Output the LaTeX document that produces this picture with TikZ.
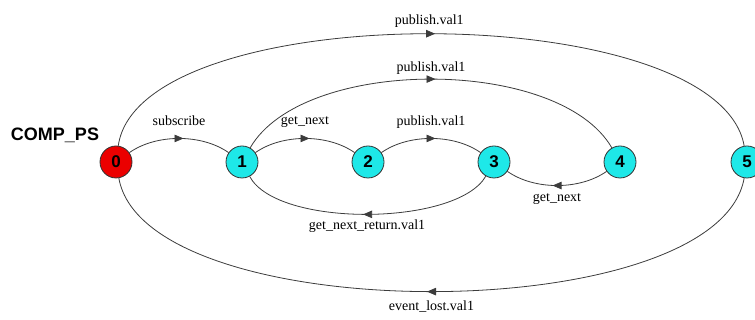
\documentclass[tikz,border=0pt]{standalone}
\usepackage{fontspec}
\setmainfont{Liberation Serif}
\setsansfont{Liberation Sans}
\usetikzlibrary{arrows.meta, decorations.markings}

\definecolor{statered}{RGB}{235,0,0}
\definecolor{statecyan}{RGB}{30,232,232}
\definecolor{edgegray}{RGB}{60,60,60}

\begin{document}
\begin{tikzpicture}[x=1pt, y=1pt,
    state/.style={circle, draw=black!80, line width=0.8pt, fill=statecyan,
        minimum size=32pt, inner sep=0pt, font=\sffamily\bfseries\fontsize{17}{17}\selectfont},
    startstate/.style={state, fill=statered},
    trans/.style={draw=edgegray, line width=0.8pt,
        postaction={decorate, decoration={markings,
            mark=at position 0.5 with {\arrow[xshift=4.5pt]{Triangle[length=9pt, width=7.5pt]}}}}},
    lbl/.style={font=\fontsize{14}{14}\selectfont, inner sep=0pt}]
    \useasboundingbox (0,0) rectangle (755,320);

    \node[font=\sffamily\bfseries\fontsize{18}{18}\selectfont] (title) at (55,185) {COMP\_PS};

    % states
    \node[startstate] (s0) at (116,158) {0};
    \node[state] (s1) at (242,158) {1};
    \node[state] (s2) at (368,158) {2};
    \node[state] (s3) at (494,158) {3};
    \node[state] (s4) at (620,158) {4};
    \node[state] (s5) at (747,158) {5};

    % transitions above
    \draw[trans] (s0) to[out=35, in=145, looseness=0.85]
        node[lbl, yshift=18pt] (l01) {subscribe} (s1);
    \draw[trans] (s1) to[out=35, in=145, looseness=0.85]
        node[lbl, yshift=16pt] (l12) {get\_next} (s2);
    \draw[trans] (s2) to[out=35, in=145, looseness=0.85]
        node[lbl, yshift=16pt] (l23) {publish.val1} (s3);
    \draw[trans] (s1) to[out=60, in=120, looseness=0.75]
        node[lbl, yshift=11pt] (l14) {publish.val1} (s4);
    \draw[trans] (s0) to[out=82, in=100, looseness=0.62]
        node[lbl, yshift=13pt] (l05) {publish.val1} (s5);

    % transitions below
    \draw[trans] (s4) to[out=-145, in=-35, looseness=0.85]
        node[lbl, yshift=-14pt] (l43) {get\_next} (s3);
    \draw[trans] (s3) to[out=-120, in=-62, looseness=0.63]
        node[lbl, yshift=-12pt] (l31) {get\_next\_return.val1} (s1);
    \draw[trans] (s5) to[out=-100, in=-80, looseness=0.63]
        node[lbl, yshift=-15pt] (l50) {event\_lost.val1} (s0);

\end{tikzpicture}
\end{document}
